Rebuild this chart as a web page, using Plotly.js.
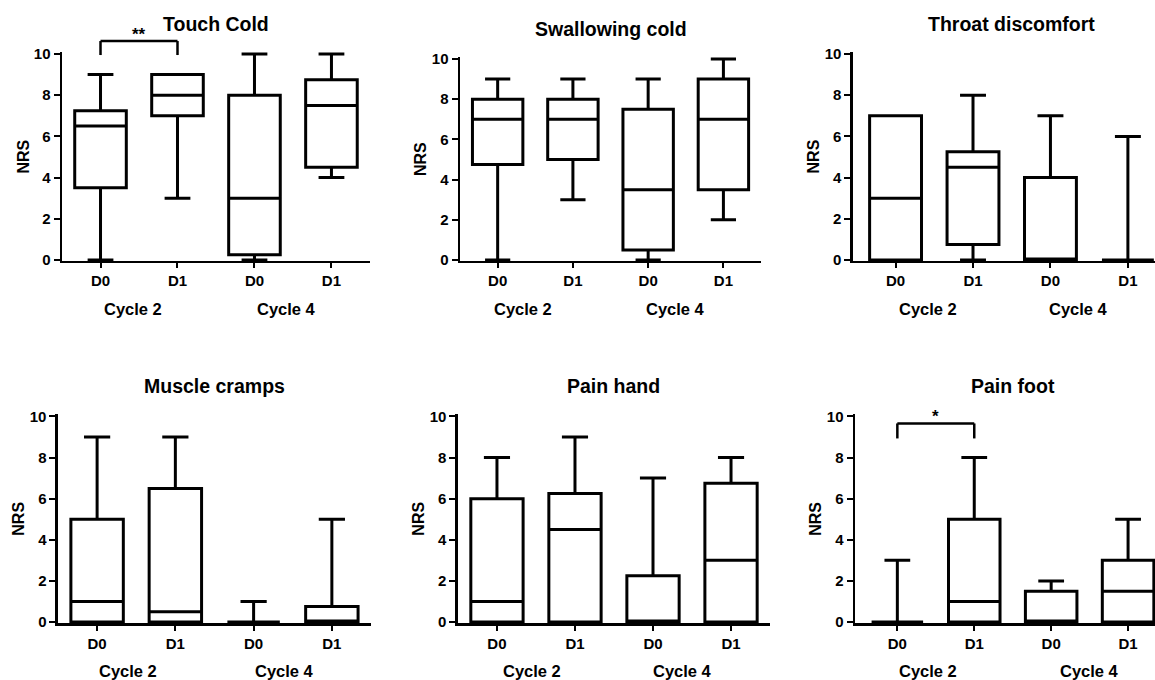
<!DOCTYPE html>
<html>
<head>
<meta charset="utf-8">
<script src="https://cdn.plot.ly/plotly-3.0.1.min.js"></script>
<style>html,body{margin:0;padding:0;background:#fff;}#chart{width:1155px;height:680px;}</style>
</head>
<body>
<div id="chart"></div>
<script>
// ---- data ----
const categories = ['D0', 'D1', 'D0', 'D1'];
const cycleLabels = ['Cycle 2', 'Cycle 4'];
const panelTitles = ['Touch Cold', 'Swallowing cold', 'Throat discomfort', 'Muscle cramps', 'Pain hand', 'Pain foot'];
const yAxisTitle = 'NRS';
const yTicks = [0, 2, 4, 6, 8, 10];
// five-number summary for each box: [min, q1, median, q3, max]
const touchCold        = [[0, 3.5, 6.5, 7.25, 9], [3, 7, 8, 9, 9], [0, 0.25, 3, 8, 10], [4, 4.5, 7.5, 8.75, 10]];
const swallowingCold   = [[0, 4.75, 7, 8, 9], [3, 5, 7, 8, 9], [0, 0.5, 3.5, 7.5, 9], [2, 3.5, 7, 9, 10]];
const throatDiscomfort = [[0, 0, 3, 7, 7], [0, 0.75, 4.5, 5.25, 8], [0, 0, 0, 4, 7], [0, 0, 0, 0, 6]];
const muscleCramps     = [[0, 0, 1, 5, 9], [0, 0, 0.5, 6.5, 9], [0, 0, 0, 0, 1], [0, 0, 0, 0.75, 5]];
const painHand         = [[0, 0, 1, 6, 8], [0, 0, 4.5, 6.25, 9], [0, 0, 0, 2.25, 7], [0, 0, 3, 6.75, 8]];
const painFoot         = [[0, 0, 0, 0, 3], [0, 0, 1, 5, 8], [0, 0, 0, 1.5, 2], [0, 0, 1.5, 3, 5]];
const panels = [touchCold, swallowingCold, throatDiscomfort, muscleCramps, painHand, painFoot];
// significance brackets: panel index, from category, to category, label
const sigPanels = [0, 5];
const sigFrom = [0, 0];
const sigTo = [1, 1];
const sigLabels = ['**', '*'];
const sigTop = [10.63, 9.66];
const sigEnd = [9.95, 8.93];

// ---- layout geometry ----
const xDomains = [[0.0537, 0.3203], [0.3983, 0.6589], [0.7385, 1], [0.0502, 0.3212], [0.3965, 0.6667], [0.7403, 1]];
const yDomains = [[0.6162, 0.9236], [0.6162, 0.9162], [0.6162, 0.9236], [0.0838, 0.3906], [0.0838, 0.3906], [0.0838, 0.3906]];
const xRanges = [[-0.5, 3.5], [-0.5, 3.5], [-0.55, 3.35], [-0.5, 3.5], [-0.5, 3.5], [-0.55, 3.35]];
const yRange = [-0.05, 10.1];
const cycleX = [[0.42, 2.41], [0.34, 2.36], [0.42, 2.36], [0.39, 2.4], [0.45, 2.38], [0.4, 2.5]];

const FONT = 'Liberation Sans, Arial, Helvetica, sans-serif';
const black = '#000';
const tickFont = {family: FONT, size: 15, weight: 'bold', color: black};

const data = [];
const layout = {
  width: 1155, height: 680,
  margin: {l: 0, r: 0, t: 0, b: 0, pad: 0},
  paper_bgcolor: '#fff', plot_bgcolor: 'rgba(0,0,0,0)',
  showlegend: false,
  font: {family: FONT, color: black},
  annotations: [], shapes: []
};

const yFrac = v => (v - yRange[0]) / (yRange[1] - yRange[0]);

panels.forEach((boxes, i) => {
  const n = i === 0 ? '' : String(i + 1);
  const xa = 'x' + n, ya = 'y' + n;
  data.push({
    type: 'box', orientation: 'v',
    xaxis: xa, yaxis: ya,
    x: categories.map((c, k) => k),
    lowerfence: boxes.map(b => b[0]),
    q1: boxes.map(b => b[1]),
    median: boxes.map(b => b[2]),
    q3: boxes.map(b => b[3]),
    upperfence: boxes.map(b => b[4]),
    width: 0.67, whiskerwidth: 0.5,
    boxpoints: false,
    line: {color: black, width: 3},
    fillcolor: '#fff',
    hoverinfo: 'skip'
  });
  layout['xaxis' + n] = {
    domain: xDomains[i], anchor: ya, range: xRanges[i],
    tickmode: 'array',
    tickvals: categories.map((c, k) => k), ticktext: categories,
    ticks: 'outside', ticklen: 5, tickwidth: 2, tickcolor: black,
    showline: true, linewidth: 2.5, linecolor: black,
    showgrid: false, zeroline: false, fixedrange: true,
    tickfont: tickFont
  };
  layout['yaxis' + n] = {
    domain: yDomains[i], anchor: xa, range: yRange,
    tickmode: 'array',
    tickvals: yTicks,
    ticks: 'outside', ticklen: 6, tickwidth: 2, tickcolor: black,
    showline: true, linewidth: 2.5, linecolor: black,
    showgrid: false, zeroline: false, fixedrange: true,
    tickfont: tickFont
  };
  // panel title
  layout.annotations.push({
    text: panelTitles[i], xref: xa, yref: ya + ' domain', x: 1.5, y: 1, yshift: 28,
    xanchor: 'center', yanchor: 'middle', showarrow: false,
    font: {family: FONT, size: 19.5, weight: 'bold', color: black}
  });
  // y-axis title
  layout.annotations.push({
    text: yAxisTitle, xref: xa + ' domain', yref: ya + ' domain', x: 0, y: 0.5, xshift: -39,
    xanchor: 'center', yanchor: 'middle', textangle: -90, showarrow: false,
    font: {family: FONT, size: 16, weight: 'bold', color: black}
  });
  // cycle labels
  cycleLabels.forEach((c, k) => {
    layout.annotations.push({
      text: c, xref: xa, yref: ya + ' domain', x: cycleX[i][k], y: 0, yshift: -48,
      xanchor: 'center', yanchor: 'middle', showarrow: false,
      font: {family: FONT, size: 16.5, weight: 'bold', color: black}
    });
  });
});

// significance brackets
sigPanels.forEach((p, k) => {
  const n = p === 0 ? '' : String(p + 1);
  const xa = 'x' + n, ya = 'y' + n + ' domain';
  const top = yFrac(sigTop[k]), end = yFrac(sigEnd[k]);
  const ln = {color: black, width: 2.5};
  layout.shapes.push({type: 'line', xref: xa, yref: ya, x0: sigFrom[k], x1: sigFrom[k], y0: end, y1: top, line: ln});
  layout.shapes.push({type: 'line', xref: xa, yref: ya, x0: sigFrom[k], x1: sigTo[k], y0: top, y1: top, line: ln});
  layout.shapes.push({type: 'line', xref: xa, yref: ya, x0: sigTo[k], x1: sigTo[k], y0: top, y1: end, line: ln});
  layout.annotations.push({
    text: sigLabels[k], xref: xa, yref: ya, x: (sigFrom[k] + sigTo[k]) / 2, y: top, yshift: 7,
    xanchor: 'center', yanchor: 'middle', showarrow: false,
    font: {family: FONT, size: 17, weight: 'bold', color: black}
  });
});

Plotly.newPlot('chart', data, layout, {staticPlot: true, displayModeBar: false});
</script>
</body>
</html>
